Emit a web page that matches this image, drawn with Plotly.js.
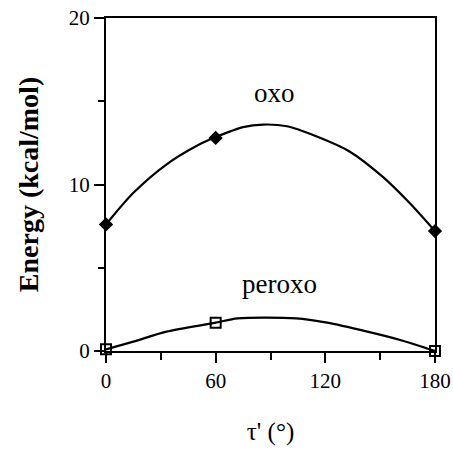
<!DOCTYPE html>
<html>
<head>
<meta charset="utf-8">
<script src="https://cdn.plot.ly/plotly-3.0.1.min.js"></script>
<style>html,body{margin:0;padding:0;background:#fff}#chart{width:453px;height:451px}</style>
</head>
<body>
<div id="chart"></div>
<script>
// Data points
const oxoX = [0, 60, 180];
const oxoY = [7.6, 12.8, 7.2];
const peroxoX = [0, 60, 180];
const peroxoY = [0.1, 1.7, 0.0];
// Fitted curves
const oxoFitX = [0, 15, 33, 51, 60, 75, 86, 99, 115, 133, 151, 166, 180];
const oxoFitY = [7.6, 9.5, 11.2, 12.4, 12.85, 13.45, 13.6, 13.5, 12.9, 12.0, 10.5, 8.9, 7.2];
const peroxoFitX = [0, 15, 33, 60, 72, 104, 121, 143, 161, 180];
const peroxoFitY = [0.1, 0.56, 1.16, 1.7, 1.96, 1.96, 1.7, 1.16, 0.66, 0.0];
// Ticks and labels
const xTicks = [0, 60, 120, 180];
const yTicks = [0, 10, 20];
const labels = [
  {text: 'oxo', x: 92, y: 15.5},
  {text: 'peroxo', x: 95, y: 4.0}
];

const font = "Liberation Serif";
const traces = [
  {x: oxoFitX, y: oxoFitY, mode: 'lines', line: {color: '#000', width: 2.2, shape: 'spline', smoothing: 0.8}, hoverinfo: 'skip'},
  {x: peroxoFitX, y: peroxoFitY, mode: 'lines', line: {color: '#000', width: 2.2, shape: 'spline', smoothing: 0.8}, hoverinfo: 'skip'},
  {x: oxoX, y: oxoY, mode: 'markers', marker: {symbol: 'diamond', size: 11, color: '#000'}, cliponaxis: false},
  {x: peroxoX, y: peroxoY, mode: 'markers', marker: {symbol: 'square-open', size: 10, color: '#000', line: {width: 2}}, cliponaxis: false}
];
const layout = {
  width: 453, height: 451,
  margin: {l: 106, r: 18, t: 18, b: 100},
  paper_bgcolor: '#fff', plot_bgcolor: '#fff',
  showlegend: false,
  font: {family: font, color: '#000'},
  xaxis: {
    range: [0, 180], tickvals: xTicks, ticktext: xTicks.map(String),
    ticks: 'outside', ticklen: 10, tickwidth: 2, tickcolor: '#000',
    minor: {dtick: 30, tick0: 0, ticks: 'outside', ticklen: 7, tickwidth: 2, tickcolor: '#000'},
    showline: true, linewidth: 2, linecolor: '#000', mirror: true,
    showgrid: false, zeroline: false,
    tickfont: {size: 21, family: font, color: '#000'},
    title: {text: "τ' (°)", font: {size: 25, family: font, color: '#000'}, standoff: 30},
    automargin: false
  },
  yaxis: {
    range: [0, 20], tickvals: yTicks, ticktext: yTicks.map(String),
    ticks: 'outside', ticklen: 10, tickwidth: 2, tickcolor: '#000',
    minor: {dtick: 5, tick0: 0, ticks: 'outside', ticklen: 6, tickwidth: 2, tickcolor: '#000'},
    showline: true, linewidth: 2, linecolor: '#000', mirror: true,
    showgrid: false, zeroline: false,
    tickfont: {size: 21, family: font, color: '#000'},
    title: {text: 'Energy (kcal/mol)', font: {size: 28, family: font, weight: 'bold', color: '#000'}, standoff: 22},
    automargin: false
  },
  annotations: labels.map(l => ({
    text: l.text, x: l.x, y: l.y, xref: 'x', yref: 'y', showarrow: false,
    font: {size: 27, family: font, color: '#000'}
  }))
};
Plotly.newPlot('chart', traces, layout, {displayModeBar: false, staticPlot: true});
</script>
</body>
</html>
